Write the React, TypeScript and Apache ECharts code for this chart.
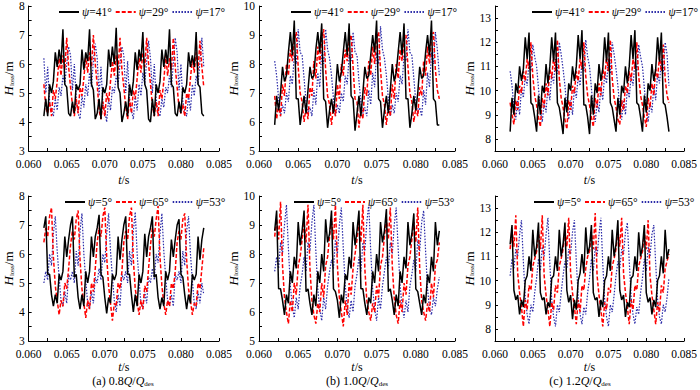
import React, { useEffect, useRef } from 'react';
import * as echarts from 'echarts';

// sampling of the time axis (s)
const T_START = 0.062;
const T_STEP = 0.00025;

const topNames = ['ψ=41°', 'ψ=29°', 'ψ=17°'];
const bottomNames = ['ψ=5°', 'ψ=65°', 'ψ=53°'];
const captions = ['(a) 0.8', '(b) 1.0', '(c) 1.2'];

// ---- (a) 0.8Q/Qdes, top row ----
const a_psi41 = [
  4.2,4.8,4.2,5.3,5.0,5.4,6.4,5.9,6.5,6.0,7.2,5.3,5.2,4.3,
  4.2,4.7,4.3,5.3,5.1,5.3,6.5,5.8,6.4,6.1,7.2,5.3,5.1,4.1,
  4.3,4.8,4.1,5.2,5.0,5.3,6.5,5.9,6.6,6.0,7.25,5.2,5.0,4.0,
  4.3,4.7,4.2,5.3,4.9,5.4,6.4,5.8,6.5,6.1,7.1,5.3,5.1,4.1,
  4.0,4.8,4.2,5.3,5.0,5.4,6.5,5.9,6.5,6.0,7.2,5.3,5.2,4.3,
  4.2,4.7,4.3,5.2,5.0,5.3,6.4,5.9,6.3,5.9,7.1,5.3,5.2,4.3,
  4.2];
const a_psi29 = [
  5.3,4.5,4.3,4.7,4.2,5.1,4.8,5.4,6.2,5.6,6.3,5.8,6.9,5.9,
  5.2,4.6,4.2,4.8,4.3,5.2,4.9,5.5,6.3,5.7,6.4,5.9,7.0,6.0,
  5.3,4.4,4.1,4.7,4.2,5.0,4.7,5.4,6.1,5.6,6.3,5.8,6.9,5.8,
  5.2,4.5,4.1,4.8,4.3,5.1,4.8,5.5,6.2,5.7,6.4,5.9,6.9,6.0,
  5.3,4.6,4.2,4.7,4.2,5.1,4.8,5.4,6.3,5.6,6.2,5.8,6.9,5.9,
  5.2,4.5,4.3,4.6,4.2,5.0,4.8,5.5,6.2,5.7,6.4,5.8,6.8,5.9,
  5.2];
const a_psi17 = [
  6.2,5.0,5.9,4.7,4.4,4.2,4.8,4.4,5.2,4.9,5.6,5.3,6.0,6.6,
  6.3,5.1,6.0,4.8,4.3,4.1,4.9,4.5,5.3,4.9,5.7,5.2,6.1,6.7,
  6.2,4.9,5.9,4.6,4.4,4.0,4.8,4.4,5.2,5.0,5.6,5.3,6.0,6.6,
  6.3,5.0,6.1,4.7,4.4,4.1,4.9,4.4,5.3,4.9,5.7,5.3,6.1,6.8,
  6.2,5.0,6.0,4.8,4.3,4.2,4.8,4.5,5.2,5.0,5.6,5.2,6.0,6.9,
  6.4,5.1,6.0,4.7,4.4,4.2,4.9,4.4,5.3,4.9,5.6,5.3,6.1,6.9,
  5.9];

// ---- (b) 1.0Q/Qdes, top row ----
const b_psi41 = [
  5.9,6.9,6.4,7.0,7.9,7.4,7.6,8.4,9.1,8.3,9.5,6.8,6.8,5.9,
  6.4,6.9,6.3,7.1,7.9,7.5,7.6,8.5,9.1,8.4,9.4,6.8,6.7,5.8,
  6.4,6.8,6.3,7.0,8.0,7.4,7.7,8.4,9.1,8.3,9.4,6.9,6.8,5.7,
  6.3,6.9,6.2,7.0,7.9,7.5,7.6,8.3,9.0,8.4,9.5,6.8,6.7,5.8,
  6.4,6.9,6.3,7.1,8.0,7.4,7.7,8.4,9.1,8.3,9.4,6.8,6.8,5.8,
  6.3,6.9,6.4,7.0,7.9,7.5,7.6,8.4,9.0,8.3,9.5,6.8,6.7,5.9,
  5.9];
const b_psi29 = [
  6.9,6.1,6.6,6.2,7.3,6.9,8.0,7.6,8.5,8.1,8.8,9.1,7.9,7.0,
  6.7,6.0,6.5,6.1,7.2,6.9,8.1,7.5,8.6,8.0,8.9,9.2,7.8,6.9,
  6.6,5.9,6.6,6.2,7.3,6.8,8.0,7.6,8.5,8.1,8.8,9.0,7.9,6.8,
  6.7,5.8,6.5,6.1,7.2,6.9,8.1,7.6,8.6,8.0,8.9,9.1,7.8,6.9,
  6.6,5.9,6.6,6.2,7.3,6.8,8.0,7.5,8.5,8.1,8.8,9.0,7.9,7.0,
  6.7,6.0,6.5,6.2,7.2,6.9,8.1,7.6,8.6,8.0,8.9,9.1,7.8,7.1,
  6.8];
const b_psi17 = [
  8.1,7.6,6.8,6.2,6.6,6.3,7.0,6.7,7.6,7.3,8.3,8.0,9.2,8.4,
  8.3,7.5,6.7,6.3,6.5,6.2,7.1,6.6,7.7,7.2,8.4,8.0,9.2,8.5,
  8.2,7.6,6.8,6.2,6.6,6.3,7.0,6.7,7.6,7.3,8.3,8.1,9.1,8.4,
  8.3,7.4,6.7,6.3,6.5,6.2,7.1,6.6,7.7,7.2,8.4,8.0,9.3,8.5,
  8.2,7.6,6.8,6.2,6.6,6.3,7.0,6.7,7.6,7.3,8.3,8.1,9.2,8.4,
  8.3,7.5,6.7,6.3,6.5,6.2,7.1,6.6,7.7,7.2,8.4,8.0,9.1,8.5,
  7.6];

// ---- (c) 1.2Q/Qdes, top row ----
const c_psi41 = [
  8.3,9.7,9.0,10.3,9.9,11.0,10.4,10.9,12.2,11.3,12.4,9.5,9.4,8.9,
  8.3,9.8,9.0,10.2,9.9,11.1,10.3,11.0,12.2,11.2,12.4,9.5,9.3,8.8,
  8.2,9.7,9.1,10.3,10.0,11.0,10.4,11.0,12.3,11.3,12.5,9.4,9.4,8.9,
  8.2,9.8,9.0,10.3,9.9,11.1,10.4,10.9,12.2,11.2,12.4,9.5,9.3,8.8,
  8.3,9.7,9.0,10.2,9.9,11.0,10.3,11.0,12.3,11.3,12.5,9.5,9.4,8.9,
  8.3,9.8,9.1,10.3,10.0,11.1,10.4,10.9,12.2,11.2,12.4,9.5,9.4,8.9,
  8.3];
const c_psi29 = [
  9.5,9.0,8.6,9.6,9.2,10.2,9.9,10.8,10.4,11.3,10.9,12.0,10.6,9.8,
  9.4,8.9,8.5,9.7,9.3,10.3,9.8,10.9,10.5,11.4,10.8,12.1,10.5,9.7,
  9.3,8.8,8.4,9.6,9.2,10.2,9.9,10.8,10.4,11.3,10.9,12.0,10.6,9.8,
  9.4,8.9,8.5,9.7,9.3,10.3,9.8,10.9,10.5,11.4,10.8,12.1,10.5,9.7,
  9.3,8.8,8.6,9.6,9.2,10.2,9.9,10.8,10.4,11.3,10.9,12.0,10.6,9.8,
  9.4,8.9,8.5,9.7,9.3,10.3,9.8,10.9,10.5,11.4,10.8,11.9,10.5,9.8,
  9.5];
const c_psi17 = [
  10.8,10.2,9.3,8.8,9.6,9.0,10.1,9.7,10.6,10.2,11.2,10.8,11.9,11.4,
  11.0,10.1,9.2,8.7,9.5,9.1,10.2,9.6,10.7,10.3,11.3,10.7,12.0,11.5,
  10.9,10.2,9.3,8.8,9.6,9.0,10.1,9.7,10.6,10.2,11.2,10.8,12.1,11.4,
  11.0,10.1,9.2,8.7,9.5,9.1,10.2,9.6,10.7,10.3,11.3,10.7,12.0,11.5,
  10.9,10.2,9.3,8.8,9.6,9.0,10.1,9.7,10.6,10.2,11.2,10.8,11.9,11.4,
  11.0,10.1,9.2,8.7,9.5,9.1,10.2,9.6,10.7,10.3,11.3,10.7,12.0,11.5,
  10.2];

// ---- (a) bottom row ----
const a_psi5 = [
  6.9,7.3,5.3,5.3,4.6,4.2,4.6,4.3,5.3,5.1,5.4,6.6,5.9,6.5,
  7.0,7.3,5.2,5.3,4.5,4.1,4.6,4.2,5.4,5.0,5.4,6.6,5.9,6.6,
  6.9,7.35,5.3,5.2,4.5,3.95,4.5,4.3,5.3,5.1,5.3,6.6,5.8,6.5,
  7.0,7.3,5.3,5.3,4.6,4.0,4.6,4.2,5.3,5.0,5.4,6.7,5.9,6.6,
  6.9,7.3,5.2,5.3,4.5,4.1,4.5,4.2,5.4,5.1,5.4,6.5,5.9,6.5,
  7.0,7.2,5.3,5.2,4.6,4.1,4.6,4.3,5.3,5.1,5.3,6.6,5.8,6.5,
  6.9];
const a_psi65 = [
  6.4,6.9,6.6,7.3,7.6,5.9,4.9,4.4,3.9,4.4,4.2,5.0,4.8,5.5,
  6.3,6.8,6.5,7.2,7.5,5.8,4.8,4.3,3.8,4.4,4.1,5.0,4.7,5.5,
  6.4,6.9,6.6,7.3,7.6,5.9,4.9,4.3,3.7,4.3,4.2,5.0,4.8,5.4,
  6.4,6.8,6.5,7.3,7.6,5.8,4.8,4.4,3.9,4.4,4.1,4.9,4.7,5.5,
  6.3,6.9,6.6,7.2,7.65,5.9,4.9,4.3,3.9,4.4,4.2,5.0,4.8,5.4,
  6.4,6.8,6.5,7.2,7.4,5.8,4.8,4.4,3.9,4.3,4.2,5.0,4.8,5.5,
  6.2];
const a_psi53 = [
  5.0,5.4,5.1,6.0,5.6,6.7,7.3,6.1,5.2,4.4,4.2,4.7,4.3,5.3,
  5.1,5.4,5.0,6.1,5.6,6.8,7.4,6.0,5.1,4.3,4.1,4.7,4.3,5.2,
  5.0,5.5,5.1,6.0,5.7,6.7,7.4,6.1,5.2,4.4,4.0,4.6,4.2,5.3,
  5.1,5.4,5.0,6.1,5.6,6.8,7.45,6.0,5.1,4.3,4.1,4.7,4.3,5.2,
  5.0,5.5,5.1,6.0,5.7,6.7,7.4,6.1,5.2,4.4,4.2,4.6,4.2,5.3,
  5.1,5.4,5.0,6.1,5.6,6.8,7.3,6.0,5.1,4.3,4.1,4.7,4.3,5.0,
  4.6];

// ---- (b) bottom row ----
const b_psi5 = [
  8.8,9.5,6.8,6.8,6.4,5.9,6.6,6.3,7.4,7.0,7.9,7.5,9.1,8.3,
  8.8,9.5,6.7,6.8,6.3,5.9,6.6,6.2,7.4,7.0,8.0,7.4,9.2,8.4,
  8.7,9.5,6.8,6.7,6.4,5.8,6.6,6.3,7.3,7.1,7.9,7.5,9.1,8.3,
  8.8,9.5,6.8,6.8,6.3,5.9,6.5,6.3,7.4,7.0,8.0,7.4,9.1,8.4,
  8.8,9.55,6.7,6.8,6.4,5.9,6.6,6.2,7.4,7.0,7.9,7.5,9.1,8.3,
  8.7,9.4,6.8,6.7,6.3,5.9,6.6,6.3,7.3,7.0,7.9,7.4,9.1,8.3,
  8.8];
const b_psi65 = [
  8.6,9.2,8.5,9.8,7.6,6.5,6.0,5.6,6.4,6.0,7.0,6.6,7.6,7.9,
  8.5,9.1,8.4,9.7,7.5,6.4,5.9,5.6,6.3,6.0,7.0,6.5,7.6,7.9,
  8.6,9.2,8.5,9.7,7.6,6.5,6.0,5.5,6.4,5.9,7.0,6.6,7.5,8.0,
  8.5,9.1,8.4,9.7,7.5,6.4,6.0,5.7,6.3,6.0,6.9,6.5,7.6,7.9,
  8.6,9.2,8.5,9.6,7.6,6.5,5.9,5.6,6.4,6.0,7.0,6.6,7.6,7.9,
  8.5,9.1,8.4,9.6,7.5,6.4,6.0,5.7,6.3,6.0,7.0,6.5,7.6,7.8,
  8.4];
const b_psi53 = [
  7.4,7.9,7.5,8.4,8.0,9.0,9.7,8.2,6.9,6.2,5.8,6.5,6.1,6.9,
  7.3,7.9,7.4,8.4,8.1,9.1,9.7,8.1,6.8,6.1,5.7,6.5,6.1,6.9,
  7.4,7.8,7.5,8.5,8.0,9.0,9.6,8.2,6.9,6.2,5.8,6.4,6.0,6.9,
  7.3,7.9,7.4,8.4,8.1,9.1,9.7,8.1,6.8,6.1,5.7,6.5,6.1,6.9,
  7.4,7.9,7.5,8.4,8.0,9.0,9.6,8.2,6.9,6.2,5.8,6.4,6.0,6.9,
  7.3,7.8,7.4,8.5,8.1,9.1,9.5,8.1,6.8,6.1,5.9,6.5,6.2,6.8,
  7.2];

// ---- (c) bottom row ----
const c_psi5 = [
  11.5,12.3,9.6,9.2,9.4,8.6,9.2,8.9,10.0,10.2,11.0,10.4,12.1,11.0,
  11.4,12.4,9.5,9.2,9.3,8.6,9.1,8.9,10.1,10.2,11.0,10.4,12.1,11.0,
  11.5,12.4,9.6,9.1,9.4,8.4,9.2,8.8,10.0,10.3,11.1,10.3,12.2,11.1,
  11.4,12.3,9.5,9.2,9.3,8.5,9.2,8.9,10.0,10.2,11.0,10.4,12.1,11.0,
  11.5,12.5,9.6,9.2,9.4,8.5,9.1,8.9,10.1,10.2,11.0,10.4,12.0,11.0,
  11.4,12.3,9.5,9.1,9.3,8.6,9.2,8.9,10.0,10.2,11.0,10.3,12.1,10.9,
  11.3];
const c_psi65 = [
  11.3,12.1,11.4,12.7,10.3,9.5,8.9,8.1,9.2,8.8,9.8,9.6,10.6,10.9,
  11.2,12.0,11.3,12.7,10.2,9.4,8.8,8.1,9.1,8.8,9.8,9.5,10.6,10.9,
  11.3,12.1,11.4,12.6,10.3,9.5,8.9,8.2,9.2,8.7,9.8,9.6,10.5,11.0,
  11.2,12.0,11.3,12.8,10.2,9.4,8.8,8.1,9.1,8.8,9.7,9.5,10.6,10.9,
  11.3,12.1,11.4,12.6,10.3,9.5,8.9,8.2,9.2,8.8,9.8,9.6,10.6,10.9,
  11.2,12.0,11.3,12.5,10.2,9.4,8.8,8.2,9.1,8.7,9.8,9.5,10.5,10.8,
  11.1];
const c_psi53 = [
  10.2,10.9,10.5,11.3,11.0,11.9,12.5,10.8,9.3,8.6,8.2,9.0,8.7,9.5,
  10.1,10.9,10.4,11.4,11.0,11.9,12.6,10.7,9.2,8.5,8.1,9.0,8.7,9.5,
  10.2,10.8,10.5,11.3,11.1,12.0,12.5,10.8,9.3,8.6,8.2,8.9,8.6,9.5,
  10.1,10.9,10.4,11.4,11.0,11.9,12.6,10.7,9.2,8.5,8.1,9.0,8.7,9.4,
  10.2,10.8,10.5,11.3,11.1,12.0,12.4,10.8,9.3,8.6,8.2,8.9,8.6,9.5,
  10.1,10.9,10.4,11.4,11.0,11.9,12.3,10.7,9.2,8.5,8.2,9.0,8.7,9.3,
  10.1];

const FONT = '"Liberation Serif", "Times New Roman", serif';
const COLORS = ['#000000', '#ff0000', '#2a2aa8'];
const LINE_TYPES: any[] = ['solid', [4, 2], [1.5, 1.5]];
const LINE_WIDTHS = [1.5, 1.5, 1.2];

const panels = [
  { left: 27, width: 192, top: 6, ymin: 3, ymax: 8, names: topNames, data: [a_psi41, a_psi29, a_psi17], legendLeft: 58, nameGap: 10 },
  { left: 259, width: 196, top: 6, ymin: 5, ymax: 10, names: topNames, data: [b_psi41, b_psi29, b_psi17], legendLeft: 290, nameGap: 14 },
  { left: 495, width: 190, top: 6, ymin: 7.5, ymax: 13.5, names: topNames, data: [c_psi41, c_psi29, c_psi17], legendLeft: 531, nameGap: 15 },
  { left: 27, width: 192, top: 196, ymin: 3, ymax: 8, names: bottomNames, data: [a_psi5, a_psi65, a_psi53], legendLeft: 64, nameGap: 10 },
  { left: 259, width: 196, top: 196, ymin: 5, ymax: 10, names: bottomNames, data: [b_psi5, b_psi65, b_psi53], legendLeft: 293, nameGap: 14 },
  { left: 495, width: 190, top: 196, ymin: 7.5, ymax: 13.5, names: bottomNames, data: [c_psi5, c_psi65, c_psi53], legendLeft: 533, nameGap: 15 },
];

const GRID_H = 145;

function buildOption() {
  const grid: any[] = [];
  const xAxis: any[] = [];
  const yAxis: any[] = [];
  const series: any[] = [];
  const legend: any[] = [];
  const graphic: any[] = [];

  panels.forEach((p, k) => {
    grid.push({ left: p.left, top: p.top, width: p.width, height: GRID_H, containLabel: false });
    const isTop = k < 3;
    xAxis.push({
      gridIndex: k,
      type: 'value',
      min: 0.06,
      max: 0.085,
      interval: 0.0025,
      name: '{i|t}/s',
      nameLocation: 'middle',
      nameGap: isTop ? 23 : 20,
      nameTextStyle: {
        fontFamily: FONT, fontSize: 12, color: '#000',
        rich: { i: { fontFamily: FONT, fontSize: 12, fontStyle: 'italic', color: '#000' } },
      },
      axisLine: { show: true, lineStyle: { color: '#000', width: 1 } },
      axisTick: { show: true, inside: true, length: 3, lineStyle: { color: '#000' } },
      splitLine: { show: false },
      axisLabel: {
        fontFamily: FONT, fontSize: 11.5, color: '#000', margin: 7,
        formatter: (v: number) => (Math.abs(v * 200 - Math.round(v * 200)) < 1e-6 ? v.toFixed(3) : ''),
      },
    });
    yAxis.push({
      gridIndex: k,
      type: 'value',
      min: p.ymin,
      max: p.ymax,
      interval: 0.5,
      name: '{i|H}{s|loss}/m',
      nameLocation: 'middle',
      nameRotate: 90,
      nameGap: p.nameGap,
      nameTextStyle: {
        fontFamily: FONT, fontSize: 13, color: '#000',
        rich: {
          i: { fontFamily: FONT, fontSize: 13, fontStyle: 'italic', color: '#000' },
          s: { fontFamily: FONT, fontSize: 7, color: '#000', verticalAlign: 'bottom', lineHeight: 13, padding: [7, 0, 0, 0] },
        },
      },
      axisLine: { show: true, lineStyle: { color: '#000', width: 1 } },
      axisTick: { show: true, inside: true, length: 3, lineStyle: { color: '#000' } },
      splitLine: { show: false },
      axisLabel: {
        fontFamily: FONT, fontSize: 11.5, color: '#000', margin: 4,
        formatter: (v: number) => (Math.abs(v - Math.round(v)) < 1e-6 ? String(Math.round(v)) : ''),
      },
    });
    p.data.forEach((vals, j) => {
      series.push({
        type: 'line',
        name: p.names[j],
        xAxisIndex: k,
        yAxisIndex: k,
        data: vals.map((v, i) => [T_START + i * T_STEP, v]),
        symbol: 'none',
        lineStyle: { color: COLORS[j], width: LINE_WIDTHS[j], type: LINE_TYPES[j] },
        itemStyle: { color: COLORS[j] },
        z: 3 - j,
      });
    });
    legend.push({
      data: p.names,
      left: p.legendLeft,
      top: p.top,
      orient: 'horizontal',
      itemWidth: 20,
      itemHeight: 10,
      itemGap: 3,
      padding: 0,
      selectedMode: false,
      itemStyle: { opacity: 0, borderWidth: 0 },
      formatter: (name: string) => '{i|ψ}' + name.slice(1),
      textStyle: {
        fontFamily: FONT, fontSize: 11.5, color: '#000', padding: [0, 0, 0, -2],
        rich: { i: { fontFamily: FONT, fontSize: 11.5, fontStyle: 'italic', color: '#000' } },
      },
    });
    if (!isTop) {
      graphic.push({
        type: 'text',
        x: p.left + p.width / 2 + (k === 5 ? -10 : 0),
        y: 381,
        style: {
          text: captions[k - 3] + '{i|Q}/{i|Q}{s|des}',
          fontFamily: FONT,
          fontSize: 12,
          fill: '#000',
          align: 'center',
          verticalAlign: 'middle',
          rich: {
            i: { fontFamily: FONT, fontSize: 12, fontStyle: 'italic', fill: '#000' },
            s: { fontFamily: FONT, fontSize: 7, fill: '#000', verticalAlign: 'bottom', lineHeight: 12, padding: [6, 0, 0, 0] },
          },
        },
      });
    }
  });

  return {
    animation: false,
    backgroundColor: '#ffffff',
    grid,
    xAxis,
    yAxis,
    series,
    legend,
    graphic,
  };
}

export default function App() {
  const ref = useRef<HTMLDivElement>(null);
  useEffect(() => {
    if (!ref.current) return;
    const chart = echarts.init(ref.current, undefined, { renderer: 'svg' });
    chart.setOption(buildOption() as any);
    return () => chart.dispose();
  }, []);
  return <div ref={ref} style={{ width: 700, height: 390, position: 'absolute', left: 0, top: 0 }} />;
}
